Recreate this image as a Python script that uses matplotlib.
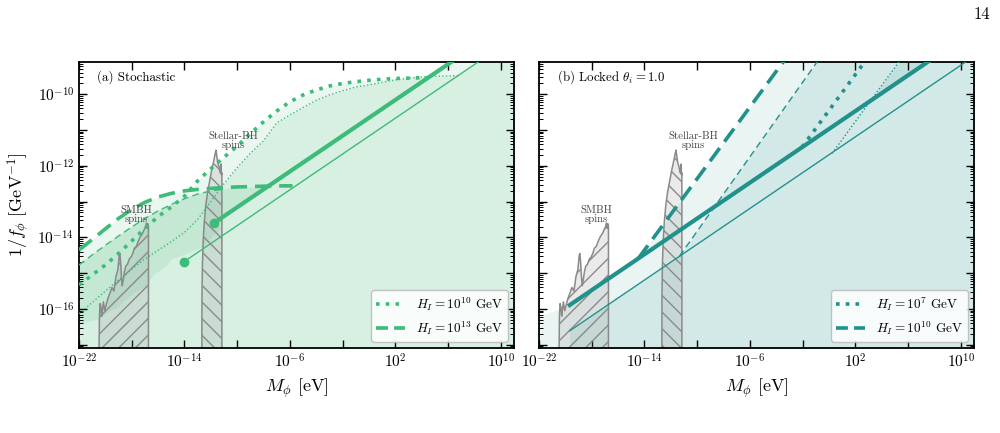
import numpy as np
import matplotlib
matplotlib.use("Agg")
import matplotlib.pyplot as plt
from matplotlib.ticker import FixedLocator, FuncFormatter, LogLocator, NullLocator, NullFormatter
from matplotlib.lines import Line2D

plt.rcParams.update({
    "font.family": "serif",
    "font.serif": ["cmr10"],
    "mathtext.fontset": "cm",
    "axes.formatter.use_mathtext": True,
    "axes.unicode_minus": False,
    "hatch.color": "#8a8a8a",
    "hatch.linewidth": 1.0,
})

# ---------------- data (log10 values) ----------------
# panel (a) Stochastic
a_thick_dash_logM = [-22, -21, -20, -19, -18, -17, -16, -15, -14, -13, -12, -11, -10, -9, -8, -7, -6, -5.8]
a_thick_dash_logy = [-14.35, -14.06, -13.76, -13.47, -13.22, -13.02, -12.87, -12.77, -12.70, -12.66,
                     -12.63, -12.61, -12.59, -12.58, -12.57, -12.56, -12.56, -12.56]
a_thin_dash_logM = [-22, -21, -20, -19, -18, -17, -16, -15, -14, -13, -12, -11.2]
a_thin_dash_logy = [-14.77, -14.49, -14.22, -13.96, -13.71, -13.47, -13.26, -13.08, -12.92, -12.79, -12.70, -12.66]
a_thick_dot_logM = [-22, -21, -20, -19, -18, -17, -16, -15, -14, -13, -12, -11, -10, -9, -8, -7, -6,
                    -5, -4, -3, -2, -1, 0, 1, 2, 3, 4, 4.5]
a_thick_dot_logy = [-15.33, -15.05, -14.77, -14.45, -14.10, -13.75, -13.42, -13.15, -12.85, -12.42, -12.08,
                    -11.76, -11.45, -11.10, -10.77, -10.47, -10.21, -10.02, -9.88, -9.77, -9.70, -9.65,
                    -9.61, -9.58, -9.56, -9.55, -9.54, -9.54]
a_thin_dot_logM = [-22, -21, -20, -19, -18, -17, -16, -15, -14, -13, -12, -11, -10, -9, -8, -7, -6, -5,
                   -4, -3, -2, -1, 0, 1, 2, 3, 4, 5, 6, 6.8]
a_thin_dot_logy = [-16.13, -15.82, -15.50, -15.19, -14.89, -14.60, -14.36, -14.12, -13.86, -13.50, -13.00,
                   -12.50, -12.05, -11.65, -11.30, -10.80, -10.58, -10.37, -10.17, -10.02, -9.90, -9.80,
                   -9.74, -9.67, -9.60, -9.55, -9.52, -9.50, -9.49, -9.48]
a_thick_solid_logM = [-11.73, 6.4]
a_thick_solid_logy = [-13.59, -9.06]
a_thin_solid_logM = [-14.04, 8.4]
a_thin_solid_logy = [-14.68, -9.07]
a_mid_logM = [-22, -21, -20, -19, -18, -17, -16, -15, -14, -13, -12, -11.2, -10, -9, -7.9, -11.73, -11.16,
              -12.65, -13.3, -14.4, -15.0, -15.4, -16.3, -16.9, -17.8, -18.96, -19.8, -20.48, -21.3, -22]
a_mid_logy = [-14.77, -14.49, -14.22, -13.96, -13.71, -13.47, -13.26, -13.08, -12.92, -12.79, -12.70, -12.66,
              -12.63, -12.61, -12.60, -13.59, -13.73, -14.28, -14.38, -14.54, -14.62, -14.82, -15.05, -15.37,
              -15.55, -15.93, -16.10, -16.30, -16.35, -16.44]

# panel (b) Locked
b_thick_solid_logM = [-19.67, 8.0]
b_thick_solid_logy = [-15.89, -8.97]
b_thin_solid_logM = [-19.67, 11.0]
b_thin_solid_logy = [-16.61, -8.94]
b_thick_dash_logM = [-14.47, -3.2]
b_thick_dash_logy = [-14.59, -8.96]
b_thin_dash_logM = [-11.35, -0.6]
b_thin_dash_logy = [-14.53, -8.94]
b_thick_dot_logM = [-2.05, 2.7]
b_thick_dot_logy = [-11.48, -9.10]
b_thin_dot_logM = [0.24, 5.4]
b_thin_dot_logy = [-11.65, -9.05]
b_vl_logM = [-22, -19.67, -14.47, -3.2, 11.5]
b_vl_logy = [-16.2, -15.89, -14.59, -8.96, -8.0]
b_l_logM = [-19.67, -11.35, -0.6, 11.5]
b_l_logy = [-16.61, -14.53, -8.94, -8.0]
b_d_logM = [2.9, 5.5, 11.5]
b_d_low_logy = [-10.3, -9.65, -8.1]
b_d_up_logy = [-10.3, -9.02, -6.0]

# black-hole superradiance exclusions
smbh_logM = [-20.48, -20.45, -20.40, -20.34, -20.28, -20.22, -20.15, -20.05, -19.95, -19.80,
             -19.65, -19.50, -19.35, -19.20, -19.05, -18.95, -18.90, -18.84, -18.78, -18.72,
             -18.65, -18.55, -18.45, -18.32, -18.18, -18.05, -17.92, -17.80, -17.65, -17.50,
             -17.35, -17.20, -17.05, -16.95, -16.88, -16.82, -16.77, -16.73]
smbh_logy = [-17.2, -16.2, -15.85, -15.95, -16.2, -16.0, -15.8, -16.05, -15.9, -15.7,
             -15.55, -15.4, -15.5, -15.1, -14.9, -14.5, -14.45, -14.7, -15.1, -15.35,
             -15.2, -14.95, -14.8, -14.75, -14.6, -14.55, -14.45, -14.3, -14.25, -14.1,
             -13.98, -13.9, -13.78, -13.7, -13.6, -13.75, -13.62, -13.7]
stellar_logM = [-12.68, -12.67, -12.64, -12.58, -12.50, -12.38, -12.25, -12.10, -11.95, -11.80,
                -11.68, -11.61, -11.55, -11.48, -11.40, -11.33, -11.27, -11.22, -11.19, -11.16]
stellar_logy = [-17.2, -15.6, -14.8, -14.1, -13.6, -13.1, -12.75, -12.45, -12.15, -11.9,
                -11.68, -11.56, -11.72, -11.9, -12.0, -12.12, -12.2, -11.95, -12.25, -12.2]

legend_a = [r"$H_I = 10^{10}$ GeV", r"$H_I = 10^{13}$ GeV"]
legend_b = [r"$H_I = 10^{7}$ GeV", r"$H_I = 10^{10}$ GeV"]

GREEN = "#3dbb78"
TEAL = "#21918c"
A_VL, A_L, A_M = "#eaf7f0", "#d7f0e2", "#c4e8d3"
B_VL, B_L, B_D = "#e9f4f3", "#d3e9e7", "#c1dfdc"

XMIN, XMAX = 1e-22, 1e11
YMIN, YMAX = 10 ** -17.09, 10 ** -9.1
FLOOR = 1e-19


def p(v):
    return 10.0 ** np.asarray(v, dtype=float)


fig = plt.figure(figsize=(10, 4.33), dpi=100)
ax1 = fig.add_axes([0.079, 0.1963, 0.435, 0.6605])
ax2 = fig.add_axes([0.539, 0.1963, 0.435, 0.6605])


def style_axis(ax, ylabels=True):
    ax.set_xscale("log")
    ax.set_yscale("log")
    ax.set_xlim(XMIN, XMAX)
    ax.set_ylim(YMIN, YMAX)
    xt = [10.0 ** e for e in range(-22, 11, 4)]
    ax.xaxis.set_major_locator(FixedLocator(xt))
    ax.xaxis.set_major_formatter(FuncFormatter(
        lambda v, pos: (r"$10^{%d}$" % round(np.log10(v))) if (round(np.log10(v)) + 22) % 8 == 0 else ""))
    ax.xaxis.set_minor_locator(NullLocator())
    yt = [10.0 ** e for e in range(-18, -8)]
    ax.yaxis.set_major_locator(FixedLocator(yt))
    if ylabels:
        ax.yaxis.set_major_formatter(FuncFormatter(
            lambda v, pos: (r"$10^{%d}$" % round(np.log10(v))) if round(np.log10(v)) % 2 == 0 else ""))
    else:
        ax.yaxis.set_major_formatter(NullFormatter())
    ax.yaxis.set_minor_locator(LogLocator(base=10, subs=np.arange(2, 10) * 1.0, numticks=100))
    ax.yaxis.set_minor_formatter(NullFormatter())
    ax.tick_params(which="both", direction="in", top=True, right=True, labelsize=11)
    ax.tick_params(which="major", length=6, width=1.0)
    ax.tick_params(which="minor", length=3, width=0.7)
    for s in ax.spines.values():
        s.set_linewidth(1.3)
    ax.set_xlabel(r"$M_\phi$ [eV]", fontsize=13)


def bh_regions(ax):
    ax.fill_between(p(smbh_logM), p(smbh_logy), FLOOR, facecolor=(0.55, 0.55, 0.55, 0.18),
                    edgecolor="#8a8a8a", hatch="//", linewidth=1.1, zorder=2)
    ax.fill_between(p(stellar_logM), p(stellar_logy), FLOOR, facecolor=(0.55, 0.55, 0.55, 0.18),
                    edgecolor="#8a8a8a", hatch="\\\\", linewidth=1.1, zorder=2)
    ax.text(10 ** -17.67, 10 ** -13.37, "SMBH\nspins", ha="center", va="center", fontsize=7.8,
            color="#444444", linespacing=0.95, zorder=4)
    ax.text(10 ** -10.27, 10 ** -11.30, "Stellar-BH\nspins", ha="center", va="center", fontsize=7.8,
            color="#444444", linespacing=0.95, zorder=4)


def add_legend(ax, color, labels):
    h = [Line2D([], [], color=color, lw=2.6, ls=(0, (1, 1.7))),
         Line2D([], [], color=color, lw=2.6, ls=(0, (3.3, 1.7)))]
    leg = ax.legend(h, labels, loc="lower right", fontsize=9.5, handlelength=2.2, borderaxespad=0.45,
                    framealpha=0.85, edgecolor="#bbbbbb", fancybox=True, labelspacing=0.45)
    leg.set_zorder(6)


# ---------------- panel (a) ----------------
ax = ax1
for xs, ys in [(a_thick_dash_logM, a_thick_dash_logy), (a_thick_dot_logM, a_thick_dot_logy),
               (a_thick_solid_logM + [11.5], a_thick_solid_logy + [-8.0])]:
    ax.fill_between(p(xs), p(ys), FLOOR, color=A_VL, lw=0, zorder=0)
for xs, ys in [(a_thin_dash_logM, a_thin_dash_logy), (a_thin_dot_logM, a_thin_dot_logy),
               (a_thin_solid_logM + [11.5], a_thin_solid_logy + [-8.0])]:
    ax.fill_between(p(xs), p(ys), FLOOR, color=A_L, lw=0, zorder=0.5)
ax.fill(p(a_mid_logM), p(a_mid_logy), color=A_M, lw=0, zorder=1)

bh_regions(ax)

ax.plot(p(a_thick_solid_logM), p(a_thick_solid_logy), color=GREEN, lw=3.0, zorder=3,
        marker="o", markevery=[0], ms=6)
ax.plot(p(a_thin_solid_logM), p(a_thin_solid_logy), color=GREEN, lw=1.0, zorder=3,
        marker="o", markevery=[0], ms=6)
ax.plot(p(a_thick_dot_logM), p(a_thick_dot_logy), color=GREEN, lw=2.6, ls=(0, (1, 1.7)), zorder=3)
ax.plot(p(a_thin_dot_logM), p(a_thin_dot_logy), color=GREEN, lw=1.0, ls=(0, (1, 1.6)), zorder=3)
ax.plot(p(a_thick_dash_logM), p(a_thick_dash_logy), color=GREEN, lw=2.6, ls=(0, (4.5, 2.2)), zorder=3)
ax.plot(p(a_thin_dash_logM), p(a_thin_dash_logy), color=GREEN, lw=1.0, ls=(0, (5, 3)), zorder=3)

style_axis(ax, True)
ax.set_ylabel(r"$1/f_\phi\ [\mathrm{GeV}^{-1}]$", fontsize=13)
ax.text(0.041, 0.948, "(a) Stochastic", transform=ax.transAxes, ha="left", va="center", fontsize=9.3, zorder=5)
add_legend(ax, GREEN, legend_a)

# ---------------- panel (b) ----------------
ax = ax2
ax.fill_between(p(b_vl_logM), p(b_vl_logy), FLOOR, color=B_VL, lw=0, zorder=0)
ax.fill_between(p(b_l_logM), p(b_l_logy), FLOOR, color=B_L, lw=0, zorder=0.5)
ax.fill_between(p(b_d_logM), p(b_d_low_logy), p(b_d_up_logy), color=B_D, lw=0, zorder=1)

bh_regions(ax)

ax.plot(p(b_thick_solid_logM), p(b_thick_solid_logy), color=TEAL, lw=3.0, zorder=3)
ax.plot(p(b_thin_solid_logM), p(b_thin_solid_logy), color=TEAL, lw=1.0, zorder=3)
ax.plot(p(b_thick_dot_logM), p(b_thick_dot_logy), color=TEAL, lw=2.6, ls=(0, (1, 1.7)), zorder=3)
ax.plot(p(b_thin_dot_logM), p(b_thin_dot_logy), color=TEAL, lw=1.0, ls=(0, (1, 1.6)), zorder=3)
ax.plot(p(b_thick_dash_logM), p(b_thick_dash_logy), color=TEAL, lw=2.6, ls=(0, (4.5, 2.2)), zorder=3)
ax.plot(p(b_thin_dash_logM), p(b_thin_dash_logy), color=TEAL, lw=1.0, ls=(0, (5, 3)), zorder=3)

style_axis(ax, False)
ax.text(0.041, 0.948, r"(b) Locked $\theta_i = 1.0$", transform=ax.transAxes, ha="left", va="center",
        fontsize=9.3, zorder=5)
add_legend(ax, TEAL, legend_b)

fig.text(0.99, 0.985, "14", ha="right", va="top", fontsize=12)

fig.savefig("out.png", dpi=100)
